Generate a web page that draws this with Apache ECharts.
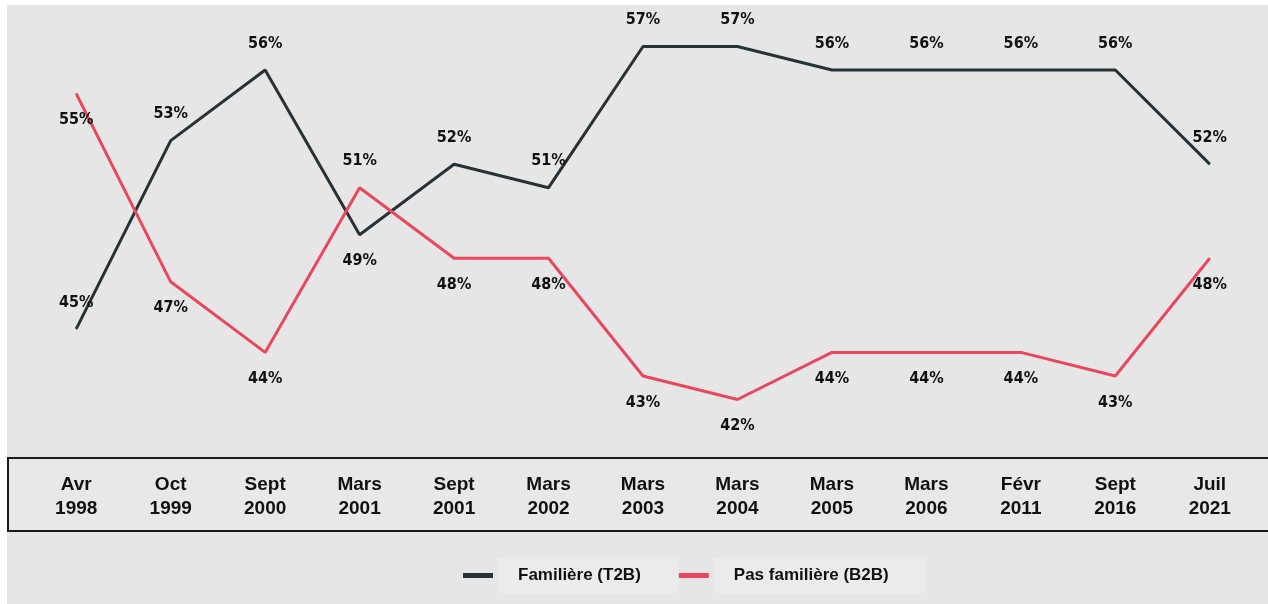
<!DOCTYPE html>
<html>
<head>
<meta charset="utf-8">
<script src="https://cdn.jsdelivr.net/npm/echarts@6/dist/echarts.min.js"></script>
<style>
  html, body { margin: 0; padding: 0; background: #fff; }
  #chart { width: 1268px; height: 604px; }
</style>
</head>
<body>
<div id="chart"></div>
<script>
const categories = ['Avr\n1998', 'Oct\n1999', 'Sept\n2000', 'Mars\n2001', 'Sept\n2001', 'Mars\n2002', 'Mars\n2003',
  'Mars\n2004', 'Mars\n2005', 'Mars\n2006', 'Févr\n2011', 'Sept\n2016', 'Juil\n2021']
const familiere = [45, 53, 56, 49, 52, 51, 57, 57, 56, 56, 56, 56, 52]
const pasFamiliere = [55, 47, 44, 51, 48, 48, 43, 42, 44, 44, 44, 43, 48]

// points whose label sits on the other side
const darkBelow = [3]
const redAbove = [3]

const dark = '#263236'
const red = '#e8485e'
const labelFont = '"DejaVu Sans Condensed", "Liberation Sans Narrow", sans-serif'

function withLabels(values, flipped, base) {
  return values.map((v, i) => ({
    value: v,
    label: { position: flipped.includes(i) ? (base === 'top' ? 'bottom' : 'top') : base }
  }))
}

const chart = echarts.init(document.getElementById('chart'))

chart.setOption({
  backgroundColor: '#fff',
  animation: false,
  graphic: [
    {
      type: 'rect', z: -10, silent: true,
      shape: { x: 7, y: 5, width: 1270, height: 610 },
      style: { fill: '#e6e6e6' }
    },
    {
      type: 'rect', z: -5, silent: true,
      shape: { x: 8, y: 458, width: 1270, height: 73 },
      style: { fill: '#e8e8e8', stroke: '#1a1a1a', lineWidth: 2 }
    }
  ],
  legend: {
    top: 553,
    left: 458,
    itemGap: 0,
    itemWidth: 30,
    itemHeight: 5,
    icon: 'rect',
    textStyle: {
      fontFamily: 'Liberation Sans, Arial, sans-serif',
      fontWeight: 'bold',
      fontSize: 17,
      color: '#111',
      backgroundColor: '#ebebeb',
      padding: [9, 38, 9, 20]
    },
    data: ['Familière (T2B)', 'Pas familière (B2B)']
  },
  grid: {
    left: 29,
    right: 11,
    top: 23,
    bottom: 181
  },
  xAxis: {
    type: 'category',
    data: categories,
    boundaryGap: true,
    axisLine: { show: false },
    axisTick: { show: false },
    axisLabel: {
      interval: 0,
      margin: 50,
      fontFamily: 'Liberation Sans, Arial, sans-serif',
      fontWeight: 'bold',
      fontSize: 19,
      lineHeight: 24,
      color: '#111'
    }
  },
  yAxis: {
    type: 'value',
    min: 41,
    max: 58,
    show: false
  },
  series: [
    {
      name: 'Familière (T2B)',
      type: 'line',
      data: withLabels(familiere, darkBelow, 'top'),
      symbol: 'circle',
      symbolSize: 1,
      color: dark,
      lineStyle: { width: 3, color: dark },
      label: {
        show: true,
        distance: 18,
        formatter: '{c}%',
        fontFamily: labelFont,
        fontWeight: 'bold',
        fontSize: 16,
        color: '#111'
      }
    },
    {
      name: 'Pas familière (B2B)',
      type: 'line',
      data: withLabels(pasFamiliere, redAbove, 'bottom'),
      symbol: 'circle',
      symbolSize: 1,
      color: red,
      lineStyle: { width: 3, color: red },
      label: {
        show: true,
        distance: 18,
        formatter: '{c}%',
        fontFamily: labelFont,
        fontWeight: 'bold',
        fontSize: 16,
        color: '#111'
      }
    }
  ]
})
</script>
</body>
</html>
